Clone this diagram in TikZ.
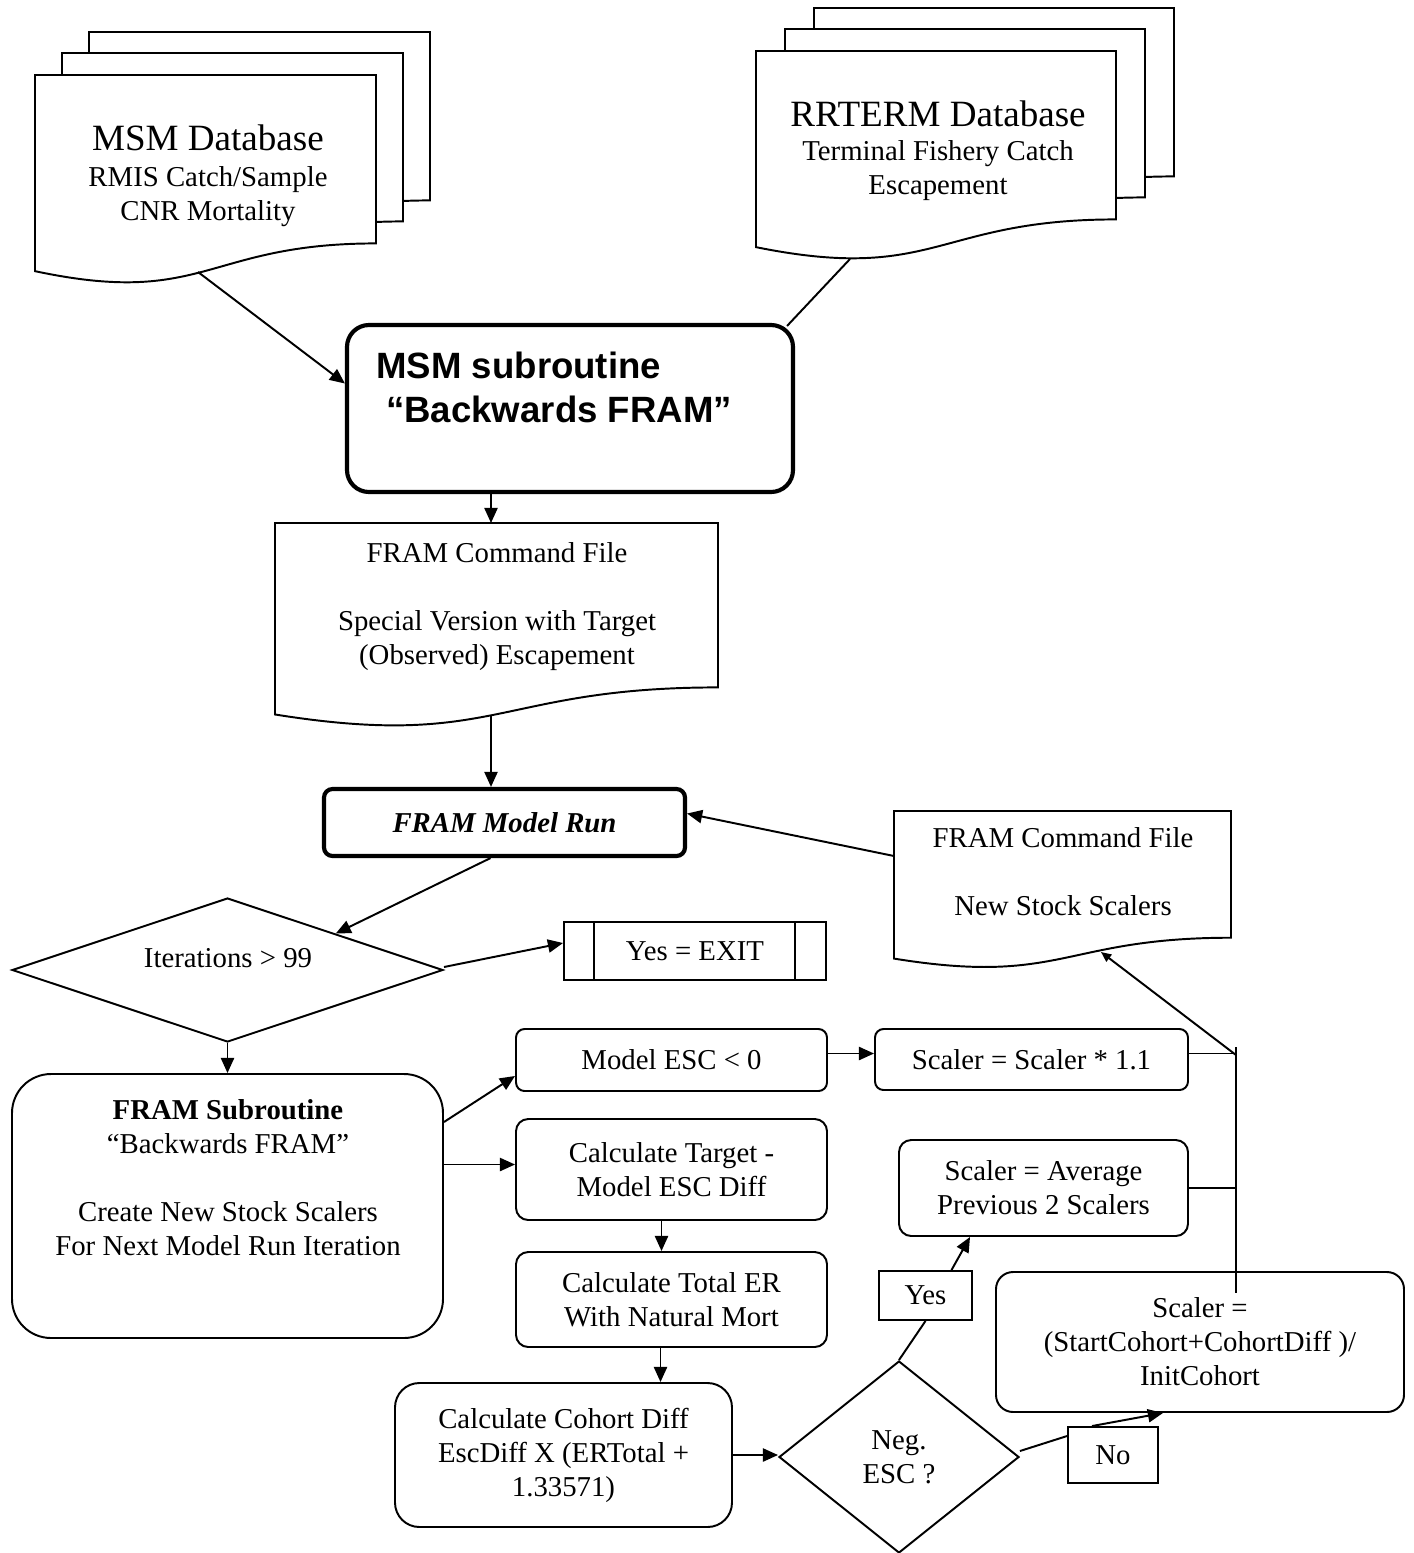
\documentclass[tikz,border=0pt]{standalone}
\usepackage{fontspec}
\setmainfont{Liberation Serif}
\newfontfamily\headsans{Liberation Sans}
\usetikzlibrary{shapes.geometric,arrows.meta,calc}

% A sheet with a wavy lower edge: left, top, width, height
\newcommand\docshape[4]{%
  \pgfmathsetmacro\dR{#1+#3}%
  \pgfmathsetmacro\dM{#1+0.5*#3}%
  \pgfmathsetmacro\dA{#2+0.802*#4}%
  \pgfmathsetmacro\dB{#2+1.107*#4}%
  \pgfmathsetmacro\dC{#2+0.934*#4}%
  \draw[sheet] (#1,#2) -- (\dR,#2) -- (\dR,\dA)
    .. controls (\dM,\dA) and (\dM,\dB) .. (#1,\dC) -- cycle;}

\begin{document}
\begin{tikzpicture}[x=0.41pt,y=-0.41pt,
  every node/.style={font=\fontsize{11.8}{13.94}\selectfont, inner sep=0pt},
  conn/.style={line width=0.8pt},
  arr/.style={line width=0.8pt,-{Triangle[length=6.2pt,width=5.4pt]}},
  smallarr/.style={line width=0.8pt,-{Triangle[length=4.2pt,width=3.6pt]}},
  sheet/.style={draw,line width=0.8pt,fill=white},
  box/.style={draw,line width=0.8pt,fill=white,align=center},
  heavy/.style={draw,line width=1.7pt,fill=white},
  wh/.style 2 args={minimum width=#1*0.41pt,minimum height=#2*0.41pt},
  txt/.style={align=center,anchor=base},
]
\useasboundingbox (0,0) rectangle (1414,1553);
\fill[white] (0,0) rectangle (1414,1553);

% --- MSM database (stack of sheets); text nodes sit on the baseline of their last line
\docshape{89}{32}{341}{210}
\docshape{62}{53}{341}{210}
\docshape{35}{75}{341}{210}
\node[txt] (msmdb) at (208,220) {{\fontsize{15.2}{17}\selectfont MSM Database}\\[0.8pt]RMIS Catch/Sample\\CNR Mortality};

% --- RRTERM database (stack of sheets)
\docshape{814}{8}{360}{210}
\docshape{785}{29}{360}{210}
\docshape{756}{51}{360}{210}
\node[txt] (rrdb) at (938,194) {{\fontsize{15.2}{17}\selectfont RRTERM Database}\\Terminal Fishery Catch\\Escapement};

% --- MSM subroutine
\node[heavy,rounded corners=9pt,wh={446}{167}] (msmsub) at (570,408.5) {};
\node[anchor=base west,align=left,font=\headsans\bfseries\fontsize{15}{18}\selectfont] (msmsubtxt) at (376,422) {MSM subroutine\\\hspace*{4pt}“Backwards FRAM”};

% --- first command file
\docshape{275}{523}{443}{205}
\node[txt] (cmd1txt) at (497,664) {FRAM Command File\\[13.94pt]Special Version with Target\\(Observed) Escapement};

% --- model run
\node[heavy,rounded corners=3.5pt,wh={361}{67},font=\fontsize{11.8}{13.94}\selectfont\bfseries\itshape] (run) at (504.5,822.5) {FRAM Model Run};

% --- second command file
\docshape{894}{811}{337}{158}
\node[txt] (cmd2txt) at (1063,915) {FRAM Command File\\[13.94pt]New Stock Scalers};

% --- iteration test and exit
\node[draw,conn,diamond,aspect=3,wh={431}{144}] (iter) at (227.5,970) {};
\node[txt] (itertxt) at (228,967) {Iterations > 99};
\node[box,wh={262}{58}] (exit) at (695,951) {Yes = EXIT};
\draw[conn] ($(exit.north west)+(31,0)$) -- ($(exit.south west)+(31,0)$);
\draw[conn] ($(exit.north east)+(-32,0)$) -- ($(exit.south east)+(-32,0)$);

% --- FRAM subroutine
\node[box,rounded corners=16pt,wh={431}{264}] (sub) at (227.5,1206) {};
\node[txt] (subtxt) at (228,1255) {\textbf{FRAM Subroutine}\\“Backwards FRAM”\\[13.94pt]Create New Stock Scalers\\For Next Model Run Iteration};

% --- processing steps
\node[box,rounded corners=3.5pt,wh={311}{62}] (esc0) at (671.5,1060) {Model ESC < 0};
\node[box,rounded corners=5pt,wh={311}{101}] (diff) at (671.5,1169.5) {Calculate Target -\\Model ESC Diff};
\node[box,rounded corners=5pt,wh={311}{95}] (ter) at (671.5,1299.5) {Calculate Total ER\\With Natural Mort};
\node[box,rounded corners=10pt,wh={337}{144}] (cohort) at (563.5,1455) {Calculate Cohort Diff\\EscDiff X (ERTotal +\\1.33571)};
\node[draw,conn,diamond,aspect=1.25,wh={240}{192},align=center,fill=white] (neg) at (899,1457) {Neg.\\ESC ?};
\node[box,rounded corners=3.5pt,wh={313}{61}] (mult) at (1031.5,1059.5) {Scaler = Scaler * 1.1};
\node[box,rounded corners=5pt,wh={289}{96}] (avg) at (1043.5,1188) {Scaler = Average\\Previous 2 Scalers};
\node[box,rounded corners=7pt,wh={408}{140}] (newsc) at (1200,1342) {Scaler =\\(StartCohort+CohortDiff )/\\InitCohort};
\node[box,wh={93}{49}] (yes) at (925.5,1295.5) {Yes};
\node[box,wh={90}{56}] (no) at (1113,1455) {No};

% --- connector end points
\coordinate (msmout) at (198,272);
\coordinate (rrout) at (850,259);
\coordinate (c1top) at (491,523);
\coordinate (c1bot) at (491,716);
\coordinate (c2left) at (894,856);
\coordinate (c2bot) at (1101,952);
\coordinate (bustop) at (1236,1047);
\coordinate (busbot) at (1236,1293);
\coordinate (busjoin) at (1236,1055);
\coordinate (dl) at ($(diff.west)+(0,-5)$);
\coordinate (tc) at ($(ter.south)+(-11,0)$);
\coordinate (mr) at ($(mult.east)+(0,-6)$);

% --- connectors
\draw[arr] (msmout) -- ($(msmsub.west)+(0,-25)$);
\draw[conn] (rrout) -- ($(msmsub.north east)+(-8,3)$);
\draw[arr] (msmsub.south -| c1top) -- (c1top);
\draw[arr] (c1bot) -- (c1bot |- run.north);
\draw[arr] (c2left) -- ($(run.east)+(0,-9)$);
\draw[arr] ($(run.south)+(-14,0)$) -- (iter.north east);
\draw[arr] ($(iter.east)+(0,-3)$) -- ($(exit.west)+(0,-8)$);
\draw[arr] (iter.south) -- (sub.north);
\draw[arr] ($(sub.east)+(0,-84)$) -- ($(esc0.south west)+(0,-16)$);
\draw[arr] (sub.east |- dl) -- (dl);
\draw[arr] ($(diff.south)+(-10,0)$) -- ($(ter.north)+(-10,0)$);
\draw[arr] (tc) -- (tc |- cohort.north);
\draw[arr] (cohort.east) -- (cohort.east -| neg.west);
\draw[arr] (esc0.east |- mr) -- (mult.west |- mr);
\draw[conn] (neg.north) -- (yes.south);
\draw[arr] ($(yes.north)+(26,0)$) -- ($(avg.south west)+(72,0)$);
\draw[conn] ($(neg.east)+(0,-6)$) -- ($(no.north west)+(0,10)$);
\draw[arr] ($(no.north)+(-21,0)$) -- ($(newsc.south)+(-37,0)$);
\draw[conn] (bustop) -- (busbot);
\draw[conn] (mr) -- (mr -| bustop);
\draw[conn] (avg.east) -- (avg.east -| bustop);
\draw[smallarr] (busjoin) -- (c2bot);
\end{tikzpicture}
\end{document}
